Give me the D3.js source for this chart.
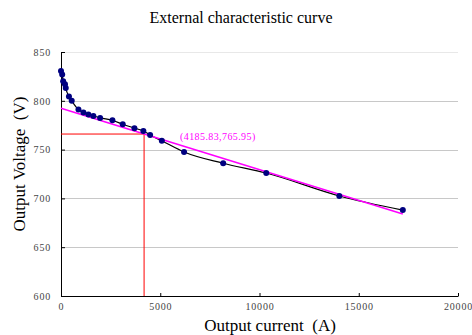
<!DOCTYPE html>
<html>
<head>
<meta charset="utf-8">
<script src="https://cdn.jsdelivr.net/npm/d3@7"></script>
<style>
  body { margin: 0; background: #fff; }
  text { font-family: "Liberation Serif", "DejaVu Serif", serif; }
</style>
</head>
<body>
<script>
// measured points
var current = [0, 60, 110, 200, 240, 400, 540, 880, 1130, 1380, 1630, 1970, 2590, 3110, 3700, 4150, 4490, 5080, 6200, 8170, 10340, 14020, 17220];
var voltage = [830.5, 827, 820, 817, 813, 804.5, 800, 791, 788, 786, 784.5, 782.5, 780, 776, 772, 769, 765, 759, 747.5, 736, 726, 702.5, 688];

// linear fit line (end points)
var fitCurrent = [0, 17220];
var fitVoltage = [792.3, 684];

// marked point
var markI = 4185.83, markV = 765.95;

var xTicks = [0, 5000, 10000, 15000, 20000];
var yTicks = [600, 650, 700, 750, 800, 850];

var width = 472, height = 335;
var margin = {top: 52, right: 14, bottom: 39, left: 61};
var w = width - margin.left - margin.right,
    h = height - margin.top - margin.bottom;

var x = d3.scaleLinear().domain([0, 20000]).range([0, w]);
var y = d3.scaleLinear().domain([600, 850]).range([h, 0]);

var data = current.map(function(d, i) { return {I: d, V: voltage[i]}; });
var fit = fitCurrent.map(function(d, i) { return {I: d, V: fitVoltage[i]}; });

var svg = d3.select("body").append("svg")
    .attr("width", width)
    .attr("height", height);

svg.append("text")
    .attr("x", 241).attr("y", 23)
    .attr("text-anchor", "middle")
    .style("font-size", "16px")
    .text("External characteristic curve");

var g = svg.append("g")
    .attr("transform", "translate(" + margin.left + "," + margin.top + ")");

// gridlines
g.selectAll(".grid").data(yTicks.slice(1)).enter().append("line")
    .attr("x1", 0).attr("x2", w)
    .attr("y1", function(d) { return Math.round(y(d)) + 0.5; })
    .attr("y2", function(d) { return Math.round(y(d)) + 0.5; })
    .attr("stroke", function(d) { return d == 850 ? "#e8e8e8" : "#c8c8c8"; })
    .attr("stroke-width", 1);

// axes
var xAxis = g.append("g")
    .attr("transform", "translate(0," + h + ")")
    .call(d3.axisBottom(x).tickValues(xTicks).tickFormat(d3.format("d"))
        .tickSizeInner(-3).tickSizeOuter(0).tickPadding(7));
var yAxis = g.append("g")
    .call(d3.axisLeft(y).tickValues(yTicks).tickFormat(d3.format("d"))
        .tickSizeInner(-4).tickSizeOuter(0).tickPadding(10));
[xAxis, yAxis].forEach(function(a) {
    a.attr("font-family", "'Liberation Serif', serif").attr("font-size", 10);
    a.select(".domain").attr("stroke", "#000");
    a.selectAll("line").attr("stroke", "#000");
    a.selectAll("text")
        .style("letter-spacing", "0.8px")
        .attr("fill", "#444");
});

// red marker lines
g.append("line")
    .attr("x1", 0).attr("x2", x(markI))
    .attr("y1", y(markV)).attr("y2", y(markV))
    .attr("stroke", "#ff0000").attr("stroke-width", 1);
g.append("line")
    .attr("x1", x(markI)).attr("x2", x(markI))
    .attr("y1", y(markV)).attr("y2", h)
    .attr("stroke", "#ff0000").attr("stroke-width", 1);

var line = d3.line()
    .x(function(d) { return x(d.I); })
    .y(function(d) { return y(d.V); });

// measured curve
g.append("path")
    .datum(data)
    .attr("d", line.curve(d3.curveMonotoneX))
    .attr("fill", "none")
    .attr("stroke", "#000")
    .attr("stroke-width", 1.2);

// fit line
g.append("path")
    .datum(fit)
    .attr("d", d3.line().x(function(d) { return x(d.I); }).y(function(d) { return y(d.V); }))
    .attr("fill", "none")
    .attr("stroke", "#ff00ff")
    .attr("stroke-width", 1.6);

g.selectAll(".pt").data(data).enter().append("circle")
    .attr("cx", function(d) { return x(d.I); })
    .attr("cy", function(d) { return y(d.V); })
    .attr("r", 3)
    .attr("fill", "#000080");

g.append("text")
    .attr("x", x(markI) + 36).attr("y", y(markV) + 6)
    .attr("fill", "#ff00ff")
    .style("font-size", "10px")
    .style("letter-spacing", "0.4px")
    .text("(" + markI + "," + markV + ")");

// axis titles
svg.append("text")
    .attr("x", 270).attr("y", 331)
    .attr("text-anchor", "middle")
    .style("font-size", "17px")
    .text("Output current\u00a0 (A)");

svg.append("text")
    .attr("transform", "translate(25,164) rotate(-90)")
    .attr("text-anchor", "middle")
    .style("font-size", "17px")
    .text("Output Voltage\u00a0 (V)");
</script>
</body>
</html>
